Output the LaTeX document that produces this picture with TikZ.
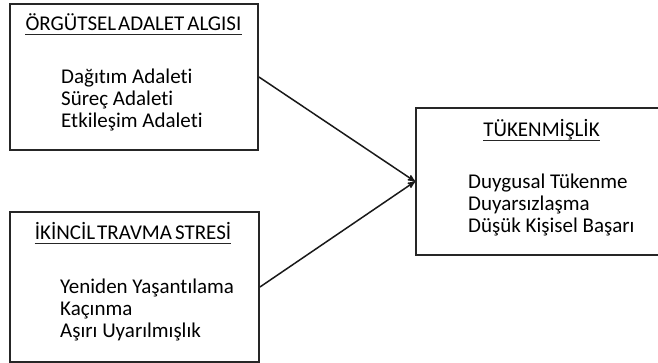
\documentclass[tikz,border=0pt]{standalone}
\usepackage{fontspec}
\setmainfont{Carlito}[Ligatures=NoCommon]
\usetikzlibrary{arrows}
\tikzset{
    box/.style = {rectangle, draw=black!85, line width=1.9pt, inner sep=0pt},
    title/.style = {inner sep=0pt, anchor=base},
    items/.style = {inner sep=0pt, align=left, anchor=base west},
    uline/.style = {draw=black!85, line width=1.1pt},
    arrow/.style = {->, draw=black!90, line width=1.5pt}
}

\begin{document}
\begin{tikzpicture}[x=1pt, y=-1pt, >=stealth', font=\fontsize{21}{22}\selectfont]
    \clip (0,0) rectangle (658,363);
    % kutular
    \node [box, minimum width=248, minimum height=146] (adalet) at (134,77) {};
    \node [box, minimum width=249, minimum height=150] (travma) at (134.5,287) {};
    \node [box, minimum width=246, minimum height=147] (tuk) at (539,181.5) {};
    % basliklar
    \node [title] (adaletT) at (133.5,31) {ÖRGÜTSEL\hspace{2pt}ADALET\hspace{3pt}ALGISI};
    \node [title] (travmaT) at (133,240) {İKİNCİL\hspace{2pt}TRAVMA\hspace{3pt}STRESİ};
    \node [title] (tukT) at (541.5,137) {TÜKENMİŞLİK};
    \foreach \t in {adaletT, travmaT, tukT}
        \draw [uline] ([yshift=-3.5pt]\t.base west) -- ([yshift=-3.5pt]\t.base east);
    % alt boyutlar (base = son satir)
    \node [items] (adaletL) at (61,128) {Dağıtım Adaleti\\Süreç Adaleti\\Etkileşim Adaleti};
    \node [items] (travmaL) at (60,337) {Yeniden Yaşantılama\\Kaçınma\\Aşırı Uyarılmışlık};
    \node [items] (tukL) at (468,233) {Duygusal Tükenme\\Duyarsızlaşma\\Düşük Kişisel Başarı};
    % oklar
    \draw [arrow] (adalet.east) -- (tuk.west);
    \draw [arrow] (travma.east) -- (tuk.west);
\end{tikzpicture}
\end{document}
